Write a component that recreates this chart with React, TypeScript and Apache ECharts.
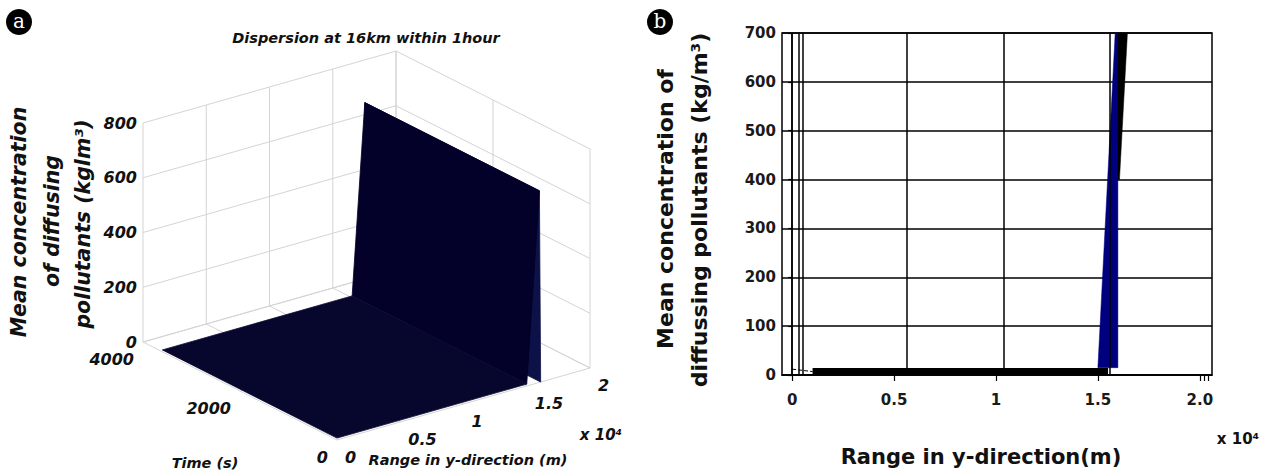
import React, { useEffect, useRef } from "react";
import * as echarts from "echarts";

// ---------- Panel (a): 3D surface data ----------
// range in y-direction (x 10^4 m), time (s), concentration (kg/m3)
const rangeA = [0, 0.5, 1.0, 1.5, 1.6, 1.61];
const timeA = [0, 3600];
const concA = [7, 7, 7, 7, 700, 0];
const zTicksA = [0, 200, 400, 600, 800];
const timeTicksA = [0, 2000, 4000];
const rangeTicksA = [0, 0.5, 1, 1.5, 2];

// ---------- Panel (b): 2D profile data ----------
const leadX = [0, 0.1];
const leadY = [12, 7];
const baseX = [0.1, 0.5, 1.0, 1.55];
const baseY = [7, 7, 7, 7];
const wedgeX = [1.5, 1.585, 1.598, 1.598];
const wedgeY = [15, 700, 700, 15];
const edgeX = [1.597, 1.645, 1.606, 1.597];
const edgeY = [700, 700, 400, 400];
const vGridB = [0, 0.025, 0.054, 0.555, 1.045, 1.56];
const xLabelsB = [0, 0.5, 1, 1.5, 2];
const xTicksB = [0, 0.5, 1, 1.5, 2, 2.02, 2.04];

// projection of panel (a) axes box (layout)
const RANGE_MAX = 2;
const TIME_MAX = 4000;
const Z_MAX = 800;
const ORIGIN = [337, 440];
const EX = [253, -72];
const EY = [-194, -98];
const EZ = [0, -219];
function proj(x: number, y: number, z: number): number[] {
  const a = x / RANGE_MAX, b = y / TIME_MAX, c = z / Z_MAX;
  return [
    ORIGIN[0] + a * EX[0] + b * EY[0] + c * EZ[0],
    ORIGIN[1] + a * EX[1] + b * EY[1] + c * EZ[1],
  ];
}

const FA = '"DejaVu Sans", "Liberation Sans", sans-serif';
const fontA = (s: number) => `italic bold ${s}px ${FA}`;
const fontB = (s: number) => `bold ${s}px ${FA}`;

function txt(text: string, x: number, y: number, font: string, align = "center", valign = "middle", fill = "#111") {
  return {
    type: "text",
    x,
    y,
    style: { text, font, fill, align, textAlign: align, verticalAlign: valign, textVerticalAlign: valign },
  };
}

export default function App() {
  const ref = useRef<HTMLDivElement>(null);
  useEffect(() => {
    if (!ref.current) return;
    const chart = echarts.init(ref.current, null, { renderer: "svg" });

    const renderA = (params: any, api: any) => {
      const c = (x: number, y: number, z: number) => api.coord(proj(x, y, z));
      const children: any[] = [];
      const gs = { stroke: "#d4d4d4", lineWidth: 1 };
      const ln = (p: number[], q: number[]) => ({
        type: "line",
        shape: { x1: p[0], y1: p[1], x2: q[0], y2: q[1] },
        style: gs,
      });
      zTicksA.forEach((z) => {
        children.push(ln(c(0, TIME_MAX, z), c(RANGE_MAX, TIME_MAX, z)));
        children.push(ln(c(RANGE_MAX, TIME_MAX, z), c(RANGE_MAX, 0, z)));
      });
      rangeTicksA.forEach((x) => {
        children.push(ln(c(x, TIME_MAX, 0), c(x, TIME_MAX, Z_MAX)));
        children.push(ln(c(x, 0, 0), c(x, TIME_MAX, 0)));
      });
      timeTicksA.forEach((y) => {
        children.push(ln(c(RANGE_MAX, y, 0), c(RANGE_MAX, y, Z_MAX)));
        children.push(ln(c(0, y, 0), c(RANGE_MAX, y, 0)));
      });
      // merge flat runs of the surface into single strips
      const segs: { x0: number; x1: number; z0: number; z1: number }[] = [];
      for (let i = 0; i < rangeA.length - 1; i++) {
        const s = { x0: rangeA[i], x1: rangeA[i + 1], z0: concA[i], z1: concA[i + 1] };
        const last = segs[segs.length - 1];
        if (last && Math.abs(last.z1 - last.z0) < 1 && Math.abs(s.z1 - s.z0) < 1 && Math.abs(last.z1 - s.z0) < 1) {
          last.x1 = s.x1;
          last.z1 = s.z1;
        } else segs.push(s);
      }
      // draw back (high range) to front
      for (let i = segs.length - 1; i >= 0; i--) {
        const { x0, x1, z0, z1 } = segs[i];
        let fill = "#07072e";
        if (z1 > z0 + 1) fill = "#03002a";
        else if (z1 < z0 - 1) fill = "#0c1248";
        for (let j = 0; j < timeA.length - 1; j++) {
          const t0 = timeA[j], t1 = timeA[j + 1];
          children.push({
            type: "polygon",
            shape: { points: [c(x0, t0, z0), c(x1, t0, z1), c(x1, t1, z1), c(x0, t1, z0)] },
            style: { fill, stroke: fill, lineWidth: 0.8, lineJoin: "round" },
          });
        }
      }
      // tick labels
      zTicksA.forEach((z) => {
        const p = c(0, TIME_MAX, z);
        children.push(txt(String(z), p[0] - 6, p[1], fontA(16), "right"));
      });
      timeTicksA.forEach((y) => {
        const p = c(0, y, 0);
        children.push(txt(String(y), p[0] - 9, p[1] + 17, fontA(16), "right"));
      });
      rangeTicksA.forEach((x) => {
        const p = c(x, 0, 0);
        children.push(txt(String(x), p[0] + 8, p[1] + 17, fontA(16), "left"));
      });
      return { type: "group", children };
    };

    const polyRender = (xs: number[], ys: number[], fill: string) => (params: any, api: any) => {
      if (params.dataIndex !== 0) return null;
      const pts = xs.map((x, i) => api.coord([x, ys[i]]));
      return { type: "polygon", shape: { points: pts }, style: { fill, stroke: fill, lineWidth: 0.5 } };
    };

    const option: any = {
      animation: false,
      grid: [
        { left: 0, top: 0, width: 640, height: 474, show: false },
        { left: 782, top: 33, width: 430, height: 342, show: true, borderColor: "#000", borderWidth: 1.5 },
      ],
      xAxis: [
        { gridIndex: 0, type: "value", min: 0, max: 640, show: false },
        {
          gridIndex: 1,
          type: "value",
          min: -0.05,
          max: 2.06,
          splitLine: { show: false },
          axisLine: { show: true, onZero: false, lineStyle: { color: "#000", width: 1.5 } },
          axisTick: { show: true, customValues: xTicksB, length: 6, lineStyle: { color: "#000", width: 1.2 } },
          axisLabel: {
            customValues: xLabelsB,
            formatter: (v: number) => (v === 2 ? "2.0" : String(v)),
            margin: 17,
            color: "#1a1a1a",
            fontFamily: FA,
            fontWeight: "bold",
            fontSize: 15,
          },
        },
      ],
      yAxis: [
        { gridIndex: 0, type: "value", min: 0, max: 474, inverse: true, show: false },
        {
          gridIndex: 1,
          type: "value",
          min: 0,
          max: 700,
          interval: 100,
          splitLine: { show: true, lineStyle: { color: "#000", width: 1.5 } },
          axisLine: { show: true, lineStyle: { color: "#000", width: 1.5 } },
          axisTick: { show: true, length: 4, lineStyle: { color: "#000", width: 1.2 } },
          axisLabel: { margin: 6, color: "#1a1a1a", fontFamily: FA, fontWeight: "bold", fontSize: 15 },
        },
      ],
      series: [
        {
          type: "custom",
          xAxisIndex: 0,
          yAxisIndex: 0,
          data: [[0, 0]],
          renderItem: renderA,
          silent: true,
        },
        {
          type: "line",
          xAxisIndex: 1,
          yAxisIndex: 1,
          data: leadX.map((x, i) => [x, leadY[i]]),
          symbol: "none",
          lineStyle: { color: "#000", width: 1, type: "dashed" },
          z: 2,
          markLine: {
            silent: true,
            symbol: "none",
            label: { show: false },
            lineStyle: { color: "#000", width: 1.5, type: "solid" },
            data: vGridB.map((v) => ({ xAxis: v })),
          },
        },
        {
          type: "custom",
          xAxisIndex: 1,
          yAxisIndex: 1,
          data: wedgeX.map((x, i) => [x, wedgeY[i]]),
          renderItem: polyRender(wedgeX, wedgeY, "#00007f"),
          z: 4,
        },
        {
          type: "custom",
          xAxisIndex: 1,
          yAxisIndex: 1,
          data: edgeX.map((x, i) => [x, edgeY[i]]),
          renderItem: polyRender(edgeX, edgeY, "#000"),
          z: 5,
        },
        {
          type: "line",
          xAxisIndex: 1,
          yAxisIndex: 1,
          data: baseX.map((x, i) => [x, baseY[i]]),
          symbol: "none",
          lineStyle: { color: "#000", width: 7 },
          z: 5,
        },
      ],
      graphic: [
        { type: "circle", shape: { cx: 19, cy: 22, r: 13 }, style: { fill: "#000" } },
        txt("a", 19, 21, '20px "DejaVu Serif", serif', "center", "middle", "#fff"),
        { type: "circle", shape: { cx: 660, cy: 22, r: 13 }, style: { fill: "#000" } },
        txt("b", 660, 21, '20px "DejaVu Serif", serif', "center", "middle", "#fff"),
        txt("Dispersion at 16km within 1hour", 366, 38, fontA(14.5)),
        { ...txt("Mean concentration", 19, 222, fontA(20.5)), rotation: Math.PI / 2 },
        { ...txt("of diffusing", 52, 221, fontA(20.5)), rotation: Math.PI / 2 },
        { ...txt("pollutants (kglm³)", 83, 224, fontA(20.5)), rotation: Math.PI / 2 },
        txt("Time (s)", 205, 463, fontA(14.5)),
        txt("Range in y-direction (m)", 468, 460, fontA(14.5)),
        txt("x 10⁴", 601, 435, fontA(15)),
        { ...txt("Mean concentration of", 665, 209, fontB(22)), rotation: Math.PI / 2 },
        { ...txt("diffussing pollutants (kg/m³)", 699, 210, fontB(22)), rotation: Math.PI / 2 },
        txt("Range in y-direction(m)", 981, 457, fontB(21)),
        txt("x 10⁴", 1238, 439, fontB(15)),
      ],
    };
    chart.setOption(option);
    return () => chart.dispose();
  }, []);
  return (
    <div
      ref={ref}
      style={{ position: "absolute", left: 0, top: 0, width: 1268, height: 474, background: "#fff" }}
    />
  );
}
